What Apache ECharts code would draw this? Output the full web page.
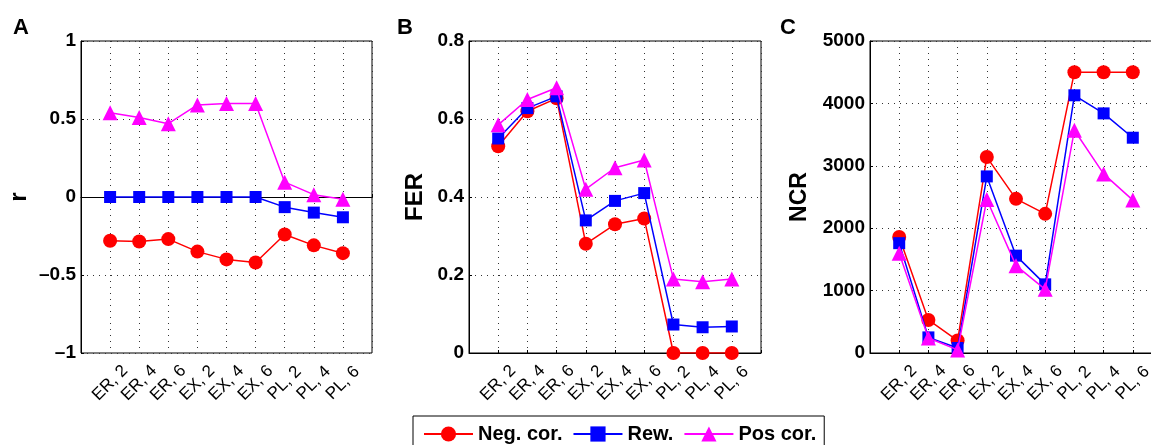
<!DOCTYPE html>
<html>
<head>
<meta charset="utf-8">
<script src="https://cdn.jsdelivr.net/npm/echarts@6/dist/echarts.min.js"></script>
<style>
  html, body { margin: 0; padding: 0; background: #fff; }
  #chart { width: 1151px; height: 445px; }
</style>
</head>
<body>
<div id="chart"></div>
<script>
// Network/degree categories along the x axis
const categories = ['ER, 2', 'ER, 4', 'ER, 6', 'EX, 2', 'EX, 4', 'EX, 6', 'PL, 2', 'PL, 4', 'PL, 6'];
const seriesNames = ['Neg. cor.', 'Rew.', 'Pos cor.'];

// Panel A: correlation r
const rNeg = [-0.28, -0.285, -0.27, -0.35, -0.40, -0.42, -0.24, -0.31, -0.36];
const rRew = [0, 0, 0, 0, 0, 0, -0.065, -0.10, -0.13];
const rPos = [0.54, 0.51, 0.47, 0.59, 0.60, 0.60, 0.095, 0.015, -0.015];

// Panel B: FER
const ferNeg = [0.53, 0.62, 0.653, 0.28, 0.33, 0.345, 0, 0, 0];
const ferRew = [0.55, 0.628, 0.658, 0.34, 0.39, 0.41, 0.073, 0.066, 0.068];
const ferPos = [0.585, 0.65, 0.68, 0.42, 0.475, 0.495, 0.19, 0.183, 0.19];

// Panel C: NCR
const ncrNeg = [1860, 530, 200, 3140, 2470, 2230, 4500, 4500, 4500];
const ncrRew = [1760, 250, 80, 2830, 1560, 1100, 4130, 3840, 3450];
const ncrPos = [1600, 240, 50, 2460, 1400, 1020, 3570, 2870, 2450];

// Y axis ranges and tick spacing per panel
const yRanges = [
  { min: -1, max: 1, interval: 0.5 },
  { min: 0, max: 0.8, interval: 0.2 },
  { min: 0, max: 5000, interval: 1000 }
];
const yNames = ['r', 'FER', 'NCR'];
const panelLetters = ['A', 'B', 'C'];

const colors = ['#ff0000', '#0000ff', '#ff00ff'];
const symbols = ['circle', 'rect', 'triangle'];
const symbolSizes = [14, 12, 15];

const panelData = [
  [rNeg, rRew, rPos],
  [ferNeg, ferRew, ferPos],
  [ncrNeg, ncrRew, ncrPos]
];

// Panel C's right edge runs past the canvas edge
const gridBoxes = [
  { left: 81, top: 41, width: 291, height: 312 },
  { left: 469, top: 41, width: 292, height: 312 },
  { left: 870, top: 41, width: 292, height: 312 }
];

const dotted = { color: '#333', width: 1, type: [1, 5] };
const fontFam = '"Liberation Sans", Arial, Helvetica, sans-serif';

const grids = gridBoxes.map(b => Object.assign({
  show: true, borderColor: '#000', borderWidth: 1, backgroundColor: 'transparent',
  outerBoundsMode: 'none', containLabel: false
}, b));

const xAxes = gridBoxes.map((b, i) => ({
  type: 'value', gridIndex: i, min: 0, max: categories.length + 1, interval: 1,
  axisLine: { show: true, lineStyle: { color: '#000', width: 1 } },
  axisTick: { show: true, inside: true, length: 3, lineStyle: { color: '#000' } },
  splitLine: { show: true, lineStyle: dotted },
  axisLabel: {
    show: true, rotate: 45, align: 'center', verticalAlign: 'middle', margin: 30,
    color: '#000', fontSize: 17, fontFamily: fontFam,
    formatter: v => (v >= 1 && v <= categories.length) ? categories[v - 1] : ''
  }
}));

const yAxes = yRanges.map((r, i) => ({
  type: 'value', gridIndex: i, min: r.min, max: r.max, interval: r.interval,
  axisLine: { show: true, lineStyle: { color: '#000', width: 1 } },
  axisTick: { show: true, inside: true, length: 3, lineStyle: { color: '#000' } },
  splitLine: { show: true, lineStyle: dotted },
  axisLabel: {
    color: '#000', fontSize: 19, fontWeight: 'bold', fontFamily: fontFam, margin: 5,
    formatter: v => (v < 0 ? '\u2013' + String(-v) : String(v))
  }
}));

const series = [];
panelData.forEach((sets, gi) => {
  sets.forEach((vals, si) => {
    series.push({
      name: seriesNames[si], type: 'line', xAxisIndex: gi, yAxisIndex: gi,
      data: vals.map((v, k) => [k + 1, v]),
      symbol: symbols[si], symbolSize: symbolSizes[si], showSymbol: true,
      lineStyle: { color: colors[si], width: 1.5 },
      itemStyle: { color: colors[si] },
      emphasis: { disabled: true },
      animation: false, z: 2 + si
    });
  });
});

const letterX = [13, 397, 780];
const nameX = [19, 415, 800];
const nameSize = [24, 24, 23];
const graphics = [];
panelLetters.forEach((t, i) => {
  graphics.push({
    type: 'text', left: letterX[i], top: 17,
    style: { text: t, fill: '#000', font: 'bold 22px ' + fontFam }
  });
  graphics.push({
    type: 'text', x: nameX[i], y: 197, rotation: Math.PI / 2,
    style: { text: yNames[i], fill: '#000', font: 'bold ' + nameSize[i] + 'px ' + fontFam, align: 'center', verticalAlign: 'middle' }
  });
});

const chart = echarts.init(document.getElementById('chart'), null, { renderer: 'canvas' });
chart.setOption({
  animation: false,
  backgroundColor: '#fff',
  grid: grids,
  xAxis: xAxes,
  yAxis: yAxes,
  series: series,
  graphic: graphics,
  legend: {
    data: seriesNames, left: 413, top: 416, orient: 'horizontal',
    padding: [8, 8, 8, 10], itemGap: 10, itemWidth: 49, itemHeight: 19,
    borderColor: '#000', borderWidth: 1, backgroundColor: '#fff',
    textStyle: { color: '#000', fontSize: 20, fontWeight: 'bold', fontFamily: fontFam }
  }
});
</script>
</body>
</html>
